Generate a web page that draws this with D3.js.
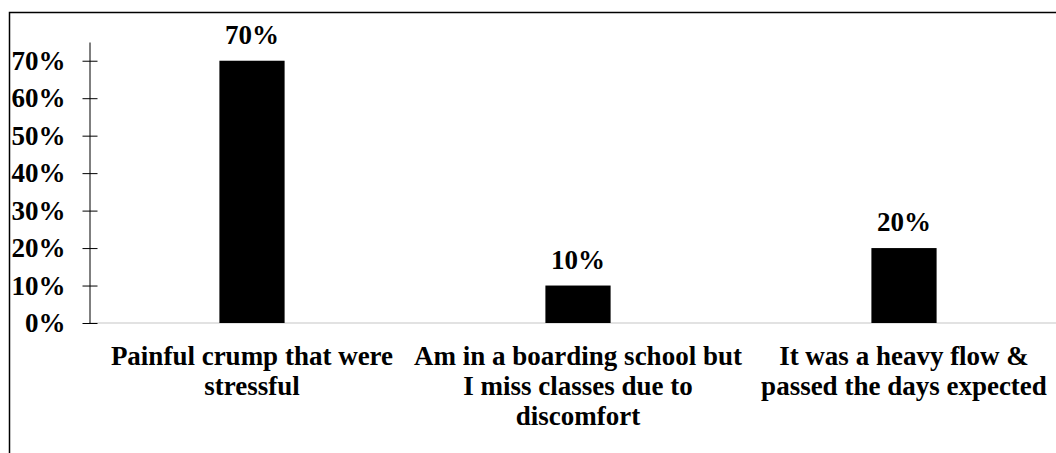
<!DOCTYPE html>
<html>
<head>
<meta charset="utf-8">
<script src="https://cdn.jsdelivr.net/npm/d3@7/dist/d3.min.js"></script>
<style>
  html, body { margin: 0; padding: 0; background: #fff; }
  svg { display: block; }
  text { font-family: "Liberation Serif", "Times New Roman", serif; font-weight: bold; fill: #000; }
</style>
</head>
<body>
<svg id="chart" width="1056" height="453"></svg>
<script>
const categories = [
  ["Painful crump that were", "stressful"],
  ["Am in a boarding school but", "I miss classes due to", "discomfort"],
  ["It was a heavy flow &", "passed the days expected"]
];
const values = [0.70, 0.10, 0.20];
const valueLabels = ["70%", "10%", "20%"];
const yTicks = [0, 0.1, 0.2, 0.3, 0.4, 0.5, 0.6, 0.7];
const yTickLabels = ["0%", "10%", "20%", "30%", "40%", "50%", "60%", "70%"];

const FONT = "27px";
const svg = d3.select("#chart");

// outer frame
svg.append("rect")
  .attr("x", 9.5).attr("y", 12.5)
  .attr("width", 1200).attr("height", 600)
  .attr("fill", "none").attr("stroke", "#000").attr("stroke-width", 1.5);

const y = d3.scaleLinear().domain([0, 0.75]).range([323, 42]);
const x = d3.scaleBand().domain(d3.range(categories.length))
  .range([89, 1067]).paddingInner(0.8).paddingOuter(0.4);

// baseline
svg.append("line")
  .attr("x1", 89).attr("x2", 1056)
  .attr("y1", y(0)).attr("y2", y(0))
  .attr("stroke", "#d9d9d9").attr("stroke-width", 1.5);

// y axis
const yAxis = d3.axisLeft(y)
  .tickValues(yTicks)
  .tickFormat((d, i) => yTickLabels[i])
  .tickSizeOuter(0)
  .tickPadding(18);
const gY = svg.append("g").attr("transform", "translate(89.5,0)").call(yAxis);
gY.select(".domain").attr("stroke", "#000").attr("stroke-width", 1);
gY.selectAll(".tick line").attr("x1", -7).attr("x2", 8).attr("stroke", "#000");
gY.selectAll(".tick text")
  .style("font-family", "'Liberation Serif', 'Times New Roman', serif")
  .style("font-weight", "bold")
  .style("font-size", FONT)
  .attr("fill", "#000");

// bars
svg.selectAll("rect.bar").data(values).enter().append("rect")
  .attr("class", "bar")
  .attr("x", (d, i) => x(i))
  .attr("width", x.bandwidth())
  .attr("y", d => y(d))
  .attr("height", d => y(0) - y(d))
  .attr("fill", "#000");

// value labels
svg.selectAll("text.val").data(values).enter().append("text")
  .attr("class", "val")
  .attr("x", (d, i) => x(i) + x.bandwidth() / 2)
  .attr("y", d => y(d) - 17)
  .attr("text-anchor", "middle")
  .style("font-size", FONT)
  .text((d, i) => valueLabels[i]);

// category labels
categories.forEach((lines, i) => {
  const t = svg.append("text")
    .attr("x", x(i) + x.bandwidth() / 2)
    .attr("y", 365)
    .attr("text-anchor", "middle")
    .style("font-size", FONT);
  lines.forEach((ln, j) => {
    t.append("tspan")
      .attr("x", x(i) + x.bandwidth() / 2)
      .attr("dy", j === 0 ? 0 : 30)
      .text(ln);
  });
});
</script>
</body>
</html>
